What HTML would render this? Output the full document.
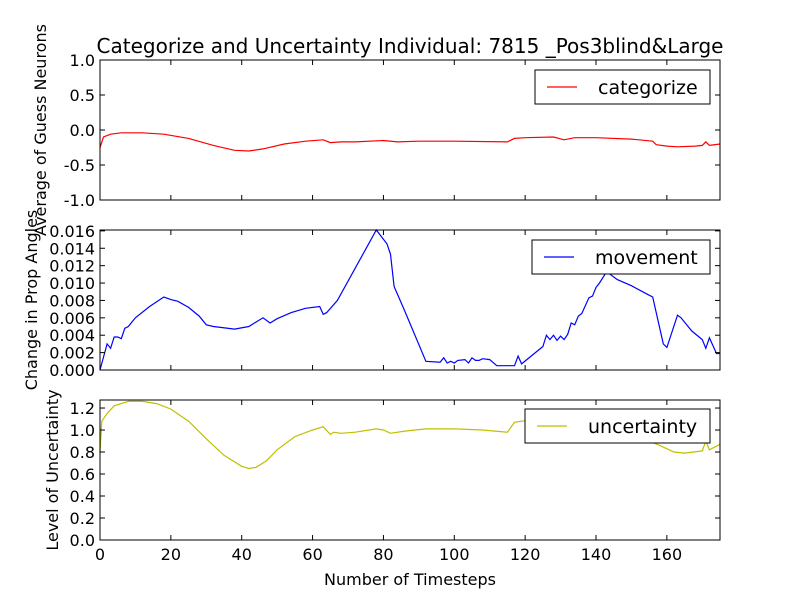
<!DOCTYPE html>
<html><head><meta charset="utf-8"><style>
body{margin:0;background:#fff}
svg{display:block;font-family:"DejaVu Sans","Liberation Sans",sans-serif}
</style></head><body>
<svg id="chart" width="800" height="600" viewBox="0 0 800 600" xmlns="http://www.w3.org/2000/svg">
<rect width="800" height="600" fill="#fff"/>
<text x="410" y="53" font-size="20" text-anchor="middle">Categorize and Uncertainty Individual: 7815 _Pos3blind&amp;Large</text>
<text x="410" y="585" font-size="16" text-anchor="middle">Number of Timesteps</text>
<g id="plots"></g>
</svg>
<script>
const catT=[0,1,3,6,12,18,25,32,38,42,46,52,58,63,65,68,72,80,84,90,100,115,117,120,128,131,134,140,150,156,157,160,163,168,170,171,172,175];
const catV=[-0.25,-0.1,-0.06,-0.04,-0.04,-0.06,-0.12,-0.22,-0.29,-0.3,-0.27,-0.2,-0.16,-0.14,-0.18,-0.17,-0.17,-0.15,-0.17,-0.16,-0.16,-0.17,-0.12,-0.11,-0.1,-0.14,-0.11,-0.11,-0.13,-0.16,-0.21,-0.23,-0.24,-0.23,-0.22,-0.17,-0.22,-0.2];
const movT=[0,2,3,4,5,6,7,8,10,14,18,20,22,25,28,30,32,38,42,46,48,50,54,58,62,63,64,67,78,81,82,83,86,92,96,97,98,99,100,101,103,104,105,106,107,108,110,112,117,118,119,125,126,127,128,129,130,131,132,133,134,135,136,138,139,140,141,143,146,150,155,156,159,160,163,164,167,170,171,172,174,175];
const movV=[0,0.003,0.0025,0.0038,0.0038,0.0036,0.0048,0.005,0.006,0.0073,0.0084,0.0081,0.0079,0.0072,0.0062,0.0052,0.005,0.0047,0.005,0.006,0.0054,0.0059,0.0066,0.0071,0.0073,0.0064,0.0066,0.008,0.0161,0.0145,0.0133,0.0096,0.0068,0.001,0.0009,0.0014,0.0008,0.001,0.0008,0.0011,0.0012,0.0008,0.0014,0.0011,0.0011,0.0013,0.0012,0.0005,0.0005,0.0016,0.0007,0.0027,0.004,0.0035,0.004,0.0034,0.0039,0.0035,0.0041,0.0054,0.0052,0.0062,0.0065,0.0083,0.0085,0.0095,0.01,0.0113,0.0104,0.0097,0.0086,0.0084,0.003,0.0026,0.0063,0.006,0.0045,0.0035,0.0025,0.0037,0.0019,0.0019];
const uncT=[0,0.5,2,4,8,12,16,20,25,30,35,40,42,44,47,50,55,60,63,65,66,68,72,78,80,82,86,92,100,108,115,117,119,125,135,145,155,158,162,165,170,171,172,175];
const uncV=[0.8,1.08,1.15,1.22,1.26,1.26,1.24,1.19,1.08,0.92,0.77,0.67,0.65,0.66,0.72,0.82,0.94,1.0,1.03,0.96,0.98,0.97,0.98,1.01,1.0,0.97,0.99,1.01,1.01,1.0,0.98,1.07,1.08,1.1,1.08,1.02,0.9,0.86,0.8,0.79,0.81,0.9,0.82,0.87];
const xTicks=[0,20,40,60,80,100,120,140,160];
const catTicks=[-1.0,-0.5,0.0,0.5,1.0];
const movTicks=[0,0.002,0.004,0.006,0.008,0.01,0.012,0.014,0.016];
const uncTicks=[0,0.2,0.4,0.6,0.8,1.0,1.2];

const NS="http://www.w3.org/2000/svg";
const g=document.getElementById('plots');
const L=100,R=720,XMAX=175;
const sx=t=>L+(R-L)*t/XMAX;
function mk(tag,attrs,parent){const e=document.createElementNS(NS,tag);for(const k in attrs)e.setAttribute(k,attrs[k]);(parent||g).appendChild(e);return e;}
function panel(name,top,bot,ymin,ymax,ticks,fmt,T,V,color,label,ylab,ylabX,legX,legY,showX){
  const sy=v=>bot-(bot-top)*(v-ymin)/(ymax-ymin);
  const pg=mk('g',{});
  
  
  let d='';T.forEach((t,i)=>{d+=(i?'L':'M')+sx(t).toFixed(1)+','+sy(V[i]).toFixed(1);});
  const line=mk('path',{d:d,fill:'none',stroke:color,'stroke-width':1.2},pg);
  
  
  ticks.forEach(v=>{const y=sy(v);
    mk('line',{x1:L,x2:L+5,y1:y,y2:y,stroke:'#000'},pg);
    mk('line',{x1:R-5,x2:R,y1:y,y2:y,stroke:'#000'},pg);
    const tx=mk('text',{x:L-5,y:y+6,'font-size':16,'text-anchor':'end'},pg);tx.textContent=fmt(v);
    
    
  });
  xTicks.forEach(t=>{const x=sx(t);
    mk('line',{x1:x,x2:x,y1:bot,y2:bot-5,stroke:'#000'},pg);
    mk('line',{x1:x,x2:x,y1:top,y2:top+5,stroke:'#000'},pg);
    if(showX){const tx=mk('text',{x:x,y:bot+20,'font-size':16,'text-anchor':'middle'},pg);tx.textContent=t;
      
      }
  });
  mk('rect',{x:L,y:top,width:R-L,height:bot-top,fill:'none',stroke:'#000','stroke-width':1},pg);
  const lg=mk('g',{},pg);
  
  
  mk('rect',{x:legX,y:legY,width:710-legX,height:34,fill:'#fff',stroke:'#000','stroke-width':1},lg);
  mk('line',{x1:legX+12,x2:legX+42,y1:legY+17,y2:legY+17,stroke:color,'stroke-width':1.2},lg);
  const lt=mk('text',{x:legX+63,y:legY+24,'font-size':19},lg);lt.textContent=label;
  const yl=mk('text',{x:ylabX,y:(top+bot)/2,'font-size':16,'text-anchor':'middle',transform:`rotate(-90 ${ylabX} ${(top+bot)/2})`},pg);
  yl.textContent=ylab;
  
  
}
panel('categorize',60,200,-1,1,catTicks,v=>v.toFixed(1),catT,catV,'#ff0000','categorize','Average of Guess Neurons',46,535,70,false);
panel('movement',230,370,0,0.0161,movTicks,v=>v.toFixed(3),movT,movV,'#0000ff','movement','Change in Prop Angles',37,532,240,false);
panel('uncertainty',400,540,0,1.273,uncTicks,v=>v.toFixed(1),uncT,uncV,'#bfbf00','uncertainty','Level of Uncertainty',58,525,409,true);
</script>
</body></html>
